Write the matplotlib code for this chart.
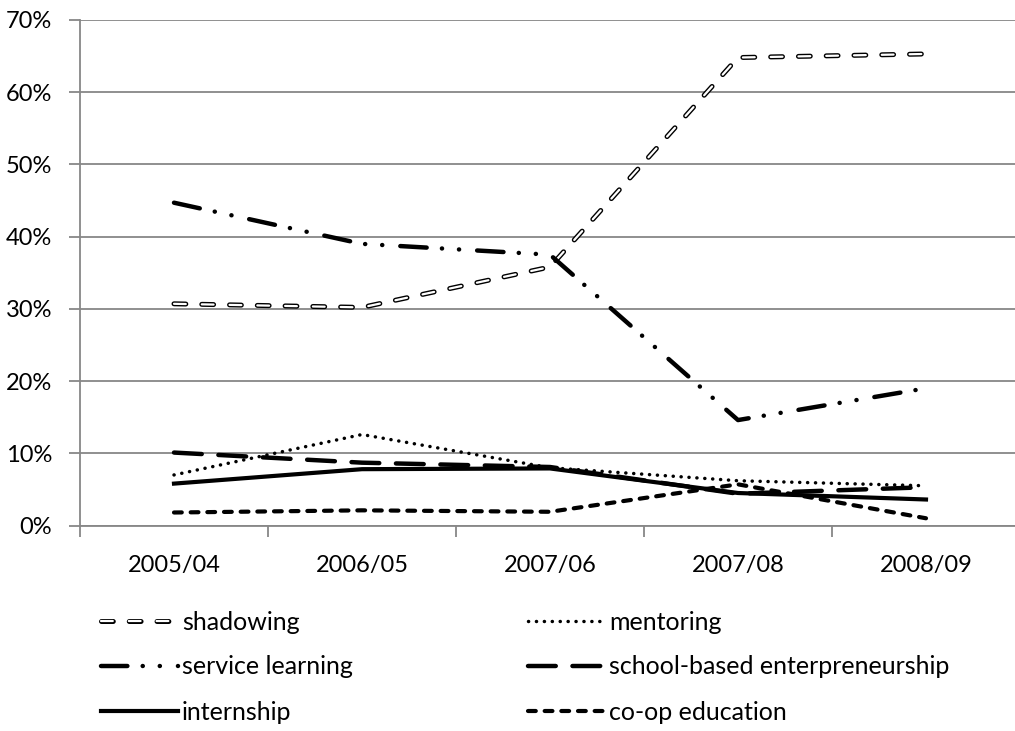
import matplotlib
matplotlib.use("Agg")
import matplotlib.pyplot as plt
import matplotlib.patheffects as pe
from matplotlib.ticker import FixedLocator, FuncFormatter

# --------------------------------------------------------------------
# Data (share of placements per year, in %)
# --------------------------------------------------------------------
years = ["2005/04", "2006/05", "2007/06", "2007/08", "2008/09"]
shadowing = [30.7, 30.2, 35.8, 64.8, 65.3]
mentoring = [7.0, 12.6, 8.0, 6.2, 5.5]
service_learning = [44.7, 39.0, 37.5, 14.6, 19.0]
school_based = [10.1, 8.7, 8.1, 4.4, 5.3]
internship = [5.8, 7.8, 7.9, 4.5, 3.6]
coop = [1.8, 2.1, 1.9, 5.7, 1.0]

plt.rcParams["font.family"] = ["Lato", "DejaVu Sans"]
plt.rcParams["lines.scale_dashes"] = False

FS = 17
GRID = "#878787"

fig = plt.figure(figsize=(10.15, 7.31), dpi=100)
ax = fig.add_axes([80 / 1015, 205.5 / 731, 940 / 1015, 505.5 / 731])
x = list(range(len(years)))

# shadowing: hollow dashes (white line with black outline)
l_shadow, = ax.plot(x, shadowing, color="white", lw=1.6,
                    dashes=(8.5, 11.5), dash_capstyle="round",
                    solid_joinstyle="round", dash_joinstyle="round",
                    path_effects=[pe.Stroke(linewidth=3.6, foreground="black"), pe.Normal()],
                    zorder=3)
l_mentor, = ax.plot(x, mentoring, color="black", lw=2.5,
                    dashes=(0.1, 5.6), dash_capstyle="round", zorder=3)
l_service, = ax.plot(x, service_learning, color="black", lw=3.2,
                     dashes=(19, 11, 0.1, 12.2, 0.1, 13), dash_capstyle="round", zorder=3)
l_school, = ax.plot(x, school_based, color="black", lw=3.2,
                    dashes=(20, 12), dash_capstyle="round", zorder=3)
l_intern, = ax.plot(x, internship, color="black", lw=3.0, zorder=3)
l_coop, = ax.plot(x, coop, color="black", lw=3.0,
                  dashes=(5.6, 6.4), dash_capstyle="round", zorder=3)

# axes styling
ax.set_xlim(-0.5, 4.5)
ax.set_ylim(0, 70)
ax.yaxis.set_major_locator(FixedLocator(range(0, 71, 10)))
ax.yaxis.set_major_formatter(FuncFormatter(lambda v, p: f"{int(v)}%"))
ax.grid(axis="y", color=GRID, lw=1.3, zorder=0)
ax.set_axisbelow(True)

ax.set_xticks(x)
ax.set_xticklabels(years)
ax.set_xticks([i - 0.5 for i in range(len(years) + 1)], minor=True)
ax.tick_params(axis="x", which="major", length=0, pad=21, labelsize=FS)
ax.tick_params(axis="x", which="minor", length=8, width=1.3, color=GRID)
ax.tick_params(axis="y", length=8, width=1.3, color=GRID, pad=12, labelsize=FS)

for s in ["top", "right"]:
    ax.spines[s].set_visible(False)
for s in ["left", "bottom"]:
    ax.spines[s].set_color(GRID)
    ax.spines[s].set_linewidth(1.3)

handles = [l_shadow, l_service, l_intern, l_mentor, l_school, l_coop]
labels = ["shadowing", "service learning", "internship",
          "mentoring", "school-based enterpreneurship", "co-op education"]
fig.legend(handles, labels, ncol=2, loc="upper left",
           bbox_to_anchor=(88 / 1015, 1 - 598 / 731),
           frameon=False, fontsize=18, handlelength=3.1, handletextpad=0.15,
           columnspacing=7.0, labelspacing=0.88, borderpad=0)

fig.savefig("out.png", dpi=100)
